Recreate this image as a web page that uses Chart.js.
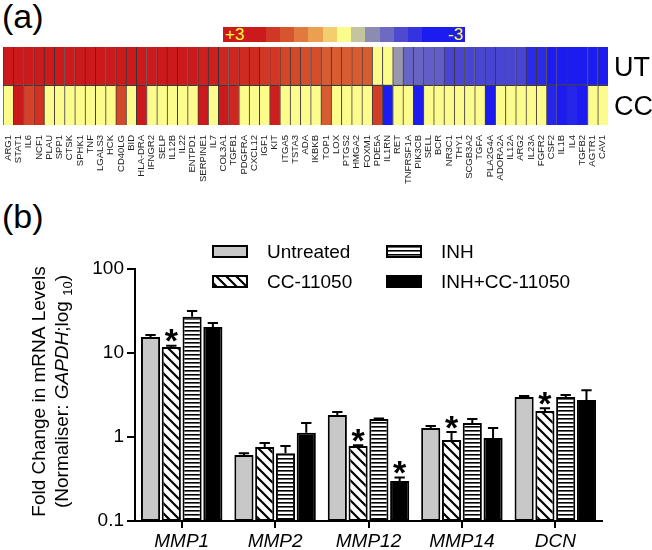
<!DOCTYPE html>
<html>
<head>
<meta charset="utf-8">
<script src="https://cdn.jsdelivr.net/npm/chart.js@4.4.1/dist/chart.umd.min.js"></script>
<style>
body { margin: 0; background: #fff; width: 652px; height: 550px; position: relative; overflow: hidden;
       font-family: 'Liberation Sans', Arial, sans-serif; }
canvas { position: absolute; left: 0; }
#heat { top: 0; }
#bars { top: 210px; }
.panel { position: absolute; left: 2px; font-size: 34px; line-height: 1; color: #000; }
#cbar { position: absolute; left: 223px; top: 27px; width: 242px; height: 15px; display: flex; }
#cbar div { flex: 1; }
.cblab { position: absolute; top: 26px; font-size: 17px; line-height: 17px; color: #ffff3a; }
</style>
</head>
<body>
<div class="panel" style="top:-1px">(a)</div>
<div class="panel" style="top:199px">(b)</div>
<div id="cbar"></div>
<div class="cblab" style="left:225px">+3</div>
<div class="cblab" style="left:448px">-3</div>
<canvas id="heat" width="652" height="210"></canvas>
<canvas id="bars" width="652" height="340"></canvas>
<script>
// ---- panel (a): heatmap data ----
const genes = ['ARG1','STAT1','IL6','NCF1','PLAU','SPP1','CTSK','SPHK1','TNF','LGALS3','HCK','CD40LG','BID',
  'HLA-DRA','IFNGR2','SELP','IL12B','IL22','ENTPD1','SERPINE1','IL7','COL3A1','TGFB1','PDGFRA','CXCL12','IGF1',
  'KIT','ITGA5','TSTA3','ADA','IKBKB','TOP1','LOX','PTGS2','HMGA2','FOXM1','PDE5A','IL1RN','RET','TNFRSF1A',
  'PIK3CB','SELL','BCR','NR3C1','THY1','SCGB3A2','TGFA','PLA2G4A','ADORA2A','IL12A','ARG2','IL23A','FGFR2',
  'CSF2','IL1B','IL4','TGFB2','AGTR1','CAV1'];
const utValues = [3,3,3,3,3,3,3,3,3,3,3,3,3,3,3,3,3,3,3,2.9,2.9,2.8,2.8,2.7,2.7,2.5,
  2.5,2.2,2.2,2.1,2.1,1.9,1.9,1.9,1.9,1.9,0,0,-0.9,-1.6,
  -1.6,-1.7,-1.7,-2.1,-2.1,-2.1,-2.1,-2.1,-2.1,-2.1,-2.1,-2.7,-2.7,
  -3,-3,-3,-3,-3,-3];
const ccValues = [0,3,2.3,2.6,0,0,0,0,0,0,0,2.2,0,
  3,0,0,0,0,0,3,0,3,2.8,0,0,0,
  2.9,0,0,0,0,1.9,0,0,0,0,2.4,-3,0,0,
  -3,0,0,0,0,0,0,-3,0,0,0,0,0,
  -2.8,-3,-2.8,-3,0,0];
const rowLabels = ['UT', 'CC'];
const colorbarSteps = [3,3,3,2.5,2,1.5,1,0.5,0,-0.5,-1,-1.5,-2,-2.5,-3,-3,-3];

// ---- panel (b): qPCR bars ----
const targets = ['MMP1','MMP2','MMP12','MMP14','DCN'];
const untreated    = [15.5, 0.61, 1.83, 1.28, 3.0];
const untreatedErr = [0.9, 0.03, 0.15, 0.07, 0.08];
const cc11050      = [11.8, 0.76, 0.78, 0.92, 2.04];
const cc11050Err   = [0.4, 0.09, 0.02, 0.23, 0.16];
const inh          = [27, 0.64, 1.64, 1.47, 3.0];
const inhErr       = [4.6, 0.14, 0.02, 0.17, 0.16];
const combo        = [20.4, 1.12, 0.30, 0.97, 2.75];
const comboErr     = [2.3, 0.35, 0.03, 0.31, 0.85];
const cc11050Star  = [1, 0, 1, 1, 1];
const comboStar    = [0, 0, 1, 0, 0];
const yTicks = [0.1, 1, 10, 100];

const FONT = "'Liberation Sans', Arial, sans-serif";

// z-score -> colour
const zStops = [
  [3, [204, 26, 28]], [2, [214, 84, 46]], [1, [234, 160, 80]], [0, [252, 252, 140]],
  [-1, [140, 140, 178]], [-2, [78, 74, 208]], [-3, [28, 28, 240]]
];
function zColor(v) {
  v = Math.max(-3, Math.min(3, v));
  for (let i = 0; i < zStops.length - 1; i++) {
    const [a, ca] = zStops[i], [b, cb] = zStops[i + 1];
    if (v <= a && v >= b) {
      const t = (a - v) / (a - b);
      const c = ca.map((x, k) => Math.round(x + (cb[k] - x) * t));
      return `rgb(${c[0]},${c[1]},${c[2]})`;
    }
  }
  return 'rgb(252,252,140)';
}

// colour bar
const cbar = document.getElementById('cbar');
colorbarSteps.forEach(v => {
  const d = document.createElement('div');
  d.style.background = zColor(v);
  cbar.appendChild(d);
});

const ones = genes.map(() => 1);

new Chart(document.getElementById('heat'), {
  type: 'bar',
  data: {
    labels: genes,
    datasets: [
      { label: rowLabels[1], data: ones, backgroundColor: ccValues.map(zColor),
        borderColor: 'rgba(30,20,20,0.85)', borderWidth: { left: 1, right: 0, top: 0, bottom: 0 }, borderSkipped: false },
      { label: rowLabels[0], data: ones, backgroundColor: utValues.map(zColor),
        borderColor: 'rgba(30,20,20,0.85)', borderWidth: { left: 1, right: 0, top: 0, bottom: 1.5 }, borderSkipped: false }
    ]
  },
  options: {
    responsive: false,
    animation: false,
    layout: { padding: { left: 3, right: 44, top: 47, bottom: 0 } },
    datasets: { bar: { barPercentage: 1, categoryPercentage: 1 } },
    plugins: { legend: { display: false }, tooltip: { enabled: false } },
    scales: {
      x: {
        stacked: true,
        grid: { display: false },
        border: { display: false },
        ticks: { autoSkip: false, maxRotation: 90, minRotation: 90, padding: 2,
                 color: '#222', font: { family: FONT, size: 9.5 } },
        afterFit: s => { s.height = 85; }
      },
      y: { stacked: true, min: 0, max: 2, display: false }
    }
  },
  plugins: [{
    id: 'rowNames',
    afterDraw(chart) {
      const { ctx, chartArea } = chart;
      const y = chart.scales.y;
      ctx.save();
      ctx.fillStyle = '#000';
      ctx.font = `27px ${FONT}`;
      ctx.textBaseline = 'alphabetic';
      ctx.fillText(rowLabels[0], chartArea.right + 6, y.getPixelForValue(1.5) + 0.358 * 27);
      ctx.fillText(rowLabels[1], chartArea.right + 6, y.getPixelForValue(0.5) + 0.358 * 27);
      ctx.restore();
    }
  }]
});

// fill patterns
function diagPattern(step, lw) {
  const c = document.createElement('canvas');
  c.width = step; c.height = step;
  const g = c.getContext('2d');
  g.fillStyle = '#fff'; g.fillRect(0, 0, step, step);
  g.strokeStyle = '#000'; g.lineWidth = lw;
  g.beginPath();
  g.moveTo(-2, -2); g.lineTo(step + 2, step + 2);
  g.moveTo(-2, step - 2); g.lineTo(2, step + 2);
  g.moveTo(step - 2, -2); g.lineTo(step + 2, 2);
  g.stroke();
  return g.createPattern(c, 'repeat');
}
function horizPattern(step, lw) {
  const c = document.createElement('canvas');
  c.width = 4; c.height = step;
  const g = c.getContext('2d');
  g.fillStyle = '#fff'; g.fillRect(0, 0, 4, step);
  g.fillStyle = '#000'; g.fillRect(0, 0, 4, lw);
  return g.createPattern(c, 'repeat');
}
const hatchDiag = diagPattern(10, 2.2);
const hatchHoriz = horizPattern(4.6, 1.6);

const errs = [untreatedErr, cc11050Err, inhErr, comboErr];
const stars = [null, cc11050Star, null, comboStar];

const barDs = (label, data, fill) => ({
  label, data, backgroundColor: fill, borderColor: '#000', borderWidth: 2, borderSkipped: false
});

new Chart(document.getElementById('bars'), {
  type: 'bar',
  data: {
    labels: targets,
    datasets: [
      barDs('Untreated', untreated, '#c8c8c8'),
      barDs('CC-11050', cc11050, hatchDiag),
      barDs('INH', inh, hatchHoriz),
      barDs('INH+CC-11050', combo, '#000')
    ]
  },
  options: {
    responsive: false,
    animation: false,
    layout: { padding: { left: 0, right: 50, top: 59, bottom: 0 } },
    datasets: { bar: { barPercentage: 0.92, categoryPercentage: 0.89 } },
    plugins: { legend: { display: false }, tooltip: { enabled: false } },
    scales: {
      x: {
        grid: { display: true, drawOnChartArea: false, offset: false, tickLength: 7, color: '#000', lineWidth: 2 },
        border: { display: true, color: '#000', width: 2 },
        ticks: { padding: 2, color: '#000', font: { family: FONT, size: 19, style: 'italic' } },
        afterFit: s => { s.height = 29; }
      },
      y: {
        type: 'logarithmic',
        min: 0.1, max: 100,
        afterBuildTicks: s => { s.ticks = yTicks.map(v => ({ value: v })); },
        grid: { display: true, drawOnChartArea: false, tickLength: 8, color: '#000', lineWidth: 2 },
        border: { display: true, color: '#000', width: 2 },
        ticks: { padding: 3, color: '#000', font: { family: FONT, size: 19 }, callback: v => String(v) },
        afterFit: s => { s.width = 135; }
      }
    }
  },
  plugins: [{
    id: 'errorsAndStars',
    afterDatasetsDraw(chart) {
      const { ctx } = chart;
      const y = chart.scales.y;
      ctx.save();
      ctx.strokeStyle = '#000';
      ctx.lineWidth = 2;
      chart.data.datasets.forEach((ds, i) => {
        chart.getDatasetMeta(i).data.forEach((bar, j) => {
          const top = y.getPixelForValue(ds.data[j] + errs[i][j]);
          const half = bar.width * 0.27;
          ctx.beginPath();
          ctx.moveTo(bar.x, bar.y);
          ctx.lineTo(bar.x, top);
          ctx.moveTo(bar.x - half, top);
          ctx.lineTo(bar.x + half, top);
          ctx.stroke();
          if (stars[i] && stars[i][j]) {
            ctx.fillStyle = '#000';
            ctx.font = `bold 34px ${FONT}`;
            ctx.textAlign = 'center';
            ctx.textBaseline = 'alphabetic';
            ctx.fillText('*', bar.x, top - 13 + 0.58 * 34);
          }
        });
      });
      ctx.restore();
    },
    afterDraw(chart) {
      const { ctx } = chart;
      ctx.save();
      // legend, two columns
      const fills = chart.data.datasets.map(d => d.backgroundColor);
      const names = chart.data.datasets.map(d => d.label);
      const order = [[0, 213, 36], [2, 387, 36], [1, 213, 66], [3, 387, 66]];
      ctx.font = `19px ${FONT}`;
      ctx.textBaseline = 'alphabetic';
      order.forEach(([k, x, yy]) => {
        ctx.fillStyle = fills[k];
        ctx.fillRect(x, yy, 34, 11);
        ctx.strokeStyle = '#000';
        ctx.lineWidth = 2;
        ctx.strokeRect(x, yy, 34, 11);
        ctx.fillStyle = '#000';
        ctx.fillText(names[k], x + 54, yy + 5.5 + 0.358 * 19);
      });
      // axis title
      ctx.translate(38, 181.5);
      ctx.rotate(-Math.PI / 2);
      ctx.textAlign = 'center';
      ctx.fillText('Fold Change in mRNA Levels', 0, 0.358 * 19);
      ctx.translate(0, 23);
      ctx.textAlign = 'left';
      const parts = [
        ['(Normaliser: ', `19px ${FONT}`, 0],
        ['GAPDH', `italic 19px ${FONT}`, 0],
        [';log ', `19px ${FONT}`, 0],
        ['10', `13px ${FONT}`, 4],
        [')', `19px ${FONT}`, 0]
      ];
      let total = 0;
      parts.forEach(p => { ctx.font = p[1]; total += ctx.measureText(p[0]).width; });
      let x = -total / 2;
      parts.forEach(p => {
        ctx.font = p[1];
        ctx.fillText(p[0], x, 0.358 * 19 + p[2]);
        x += ctx.measureText(p[0]).width;
      });
      ctx.restore();
    }
  }]
});
</script>
</body>
</html>
